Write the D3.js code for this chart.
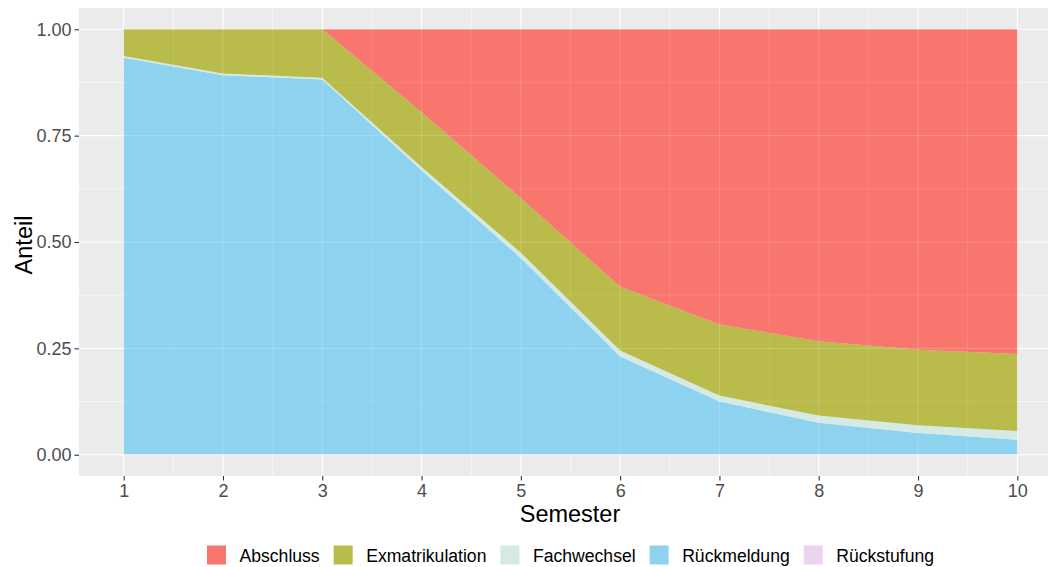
<!doctype html>
<html>
<head>
<meta charset="utf-8">
<style>
  body { margin: 0; background: #ffffff; }
  svg { display: block; font-family: "Liberation Sans", Arial, sans-serif; }
</style>
<script src="https://d3js.org/d3.v7.min.js"></script>
</head>
<body>
<div id="chart"></div>
<script>
// Data: share per semester, stacked (Abschluss on top, Rückstufung at the bottom)
var semesters = [1, 2, 3, 4, 5, 6, 7, 8, 9, 10];
var categories = ["Abschluss", "Exmatrikulation", "Fachwechsel", "Rückmeldung", "Rückstufung"];
var abschluss       = [0, 0, 0, 0.195, 0.397, 0.605, 0.694, 0.733, 0.753, 0.763];
var exmatrikulation = [0.063, 0.104, 0.114, 0.129, 0.128, 0.150, 0.167, 0.175, 0.178, 0.181];
var fachwechsel     = [0.004, 0.004, 0.004, 0.008, 0.013, 0.014, 0.014, 0.017, 0.018, 0.021];
var rueckmeldung    = [0.931, 0.890, 0.880, 0.666, 0.460, 0.229, 0.123, 0.073, 0.049, 0.033];
var rueckstufung    = [0.002, 0.002, 0.002, 0.002, 0.002, 0.002, 0.002, 0.002, 0.002, 0.002];
var yTicks = [0, 0.25, 0.5, 0.75, 1];
var colors = ["#F8766D", "#B9BB4A", "#D4EAE4", "#8DD2EE", "#ECD4F0"];

var W = 1048, H = 567;
var panel = {left: 79, right: 1062, top: 8, bottom: 476};

var svg = d3.select("#chart").append("svg")
  .attr("width", W).attr("height", H);

var x = d3.scaleLinear().domain([0.55, 10.45]).range([panel.left, panel.right]);
var y = d3.scaleLinear().domain([-0.05, 1.05]).range([panel.bottom, panel.top]);

// rows for the stack
var series = [abschluss, exmatrikulation, fachwechsel, rueckmeldung, rueckstufung];
var rows = semesters.map(function(s, i) {
  var r = {semester: s};
  categories.forEach(function(c, j) { r[c] = series[j][i]; });
  return r;
});

// bottom first in the stack
var stack = d3.stack().keys(categories.slice().reverse());
var stacked = stack(rows);

var color = d3.scaleOrdinal().domain(categories).range(colors);

// panel background
svg.append("rect")
  .attr("x", panel.left).attr("y", panel.top)
  .attr("width", panel.right - panel.left).attr("height", panel.bottom - panel.top)
  .attr("fill", "#EBEBEB");

var minorX = d3.range(1.5, 10, 1);
var minorY = [0.125, 0.375, 0.625, 0.875];

function grid(g, op) {
  g.selectAll(".minx").data(minorX).enter().append("line")
    .attr("x1", x).attr("x2", x).attr("y1", panel.top).attr("y2", panel.bottom)
    .attr("stroke", "#fff").attr("stroke-width", 0.55).attr("stroke-opacity", op);
  g.selectAll(".miny").data(minorY).enter().append("line")
    .attr("y1", y).attr("y2", y).attr("x1", panel.left).attr("x2", panel.right)
    .attr("stroke", "#fff").attr("stroke-width", 0.55).attr("stroke-opacity", op);
  g.selectAll(".majx").data(semesters).enter().append("line")
    .attr("x1", x).attr("x2", x).attr("y1", panel.top).attr("y2", panel.bottom)
    .attr("stroke", "#fff").attr("stroke-width", 1.1).attr("stroke-opacity", op);
  g.selectAll(".majy").data(yTicks).enter().append("line")
    .attr("y1", y).attr("y2", y).attr("x1", panel.left).attr("x2", panel.right)
    .attr("stroke", "#fff").attr("stroke-width", 1.1).attr("stroke-opacity", op);
}

grid(svg.append("g"), 1);

var area = d3.area()
  .x(function(d) { return x(d.data.semester); })
  .y0(function(d) { return y(d[0]); })
  .y1(function(d) { return y(d[1]); });

svg.append("g").selectAll("path")
  .data(stacked)
  .enter().append("path")
    .attr("d", area)
    .attr("fill", function(d) { return color(d.key); });

// gridlines faintly showing through the semi transparent areas
grid(svg.append("g"), 0.18);

// axes
var xAxis = svg.append("g")
  .attr("transform", "translate(0," + panel.bottom + ")")
  .call(d3.axisBottom(x).tickValues(semesters).tickSize(4.5).tickPadding(4).tickFormat(d3.format("d")));
var yAxis = svg.append("g")
  .attr("transform", "translate(" + panel.left + ",0)")
  .call(d3.axisLeft(y).tickValues(yTicks).tickSize(4.5).tickPadding(3).tickFormat(d3.format(".2f")));

[xAxis, yAxis].forEach(function(a) {
  a.select(".domain").remove();
  a.selectAll(".tick line").attr("stroke", "#333333").attr("stroke-width", 1.1);
  a.selectAll(".tick text").attr("fill", "#4D4D4D").style("font-size", "18px")
    .style("font-family", "'Liberation Sans', Arial, sans-serif");
});

// axis titles
svg.append("text")
  .attr("x", (panel.left + 1062) / 2 - 0.5).attr("y", 522)
  .attr("text-anchor", "middle")
  .style("font-size", "23.5px")
  .text("Semester");

svg.append("text")
  .attr("transform", "translate(32," + ((panel.top + panel.bottom) / 2 + 3) + ") rotate(-90)")
  .attr("text-anchor", "middle")
  .style("font-size", "23.5px")
  .text("Anteil");

// legend
var legend = svg.append("g");
var keySize = 19, keyGap = 13.5, itemGap = 14;
var items = legend.selectAll("g").data(categories).enter().append("g");
items.append("rect")
  .attr("width", keySize).attr("height", keySize)
  .attr("y", 545.5)
  .attr("fill", function(d) { return color(d); });
items.append("text")
  .attr("x", keySize + keyGap).attr("y", 561.5)
  .style("font-size", "17.6px")
  .text(function(d) { return d; });

var pos = 0, offsets = [];
items.each(function() {
  offsets.push(pos);
  pos += keySize + keyGap + d3.select(this).select("text").node().getComputedTextLength() + itemGap;
});
var total = pos - itemGap;
var start = (panel.left + 1062) / 2 - total / 2;
items.attr("transform", function(d, i) { return "translate(" + (start + offsets[i]) + ",0)"; });
</script>
</body>
</html>
